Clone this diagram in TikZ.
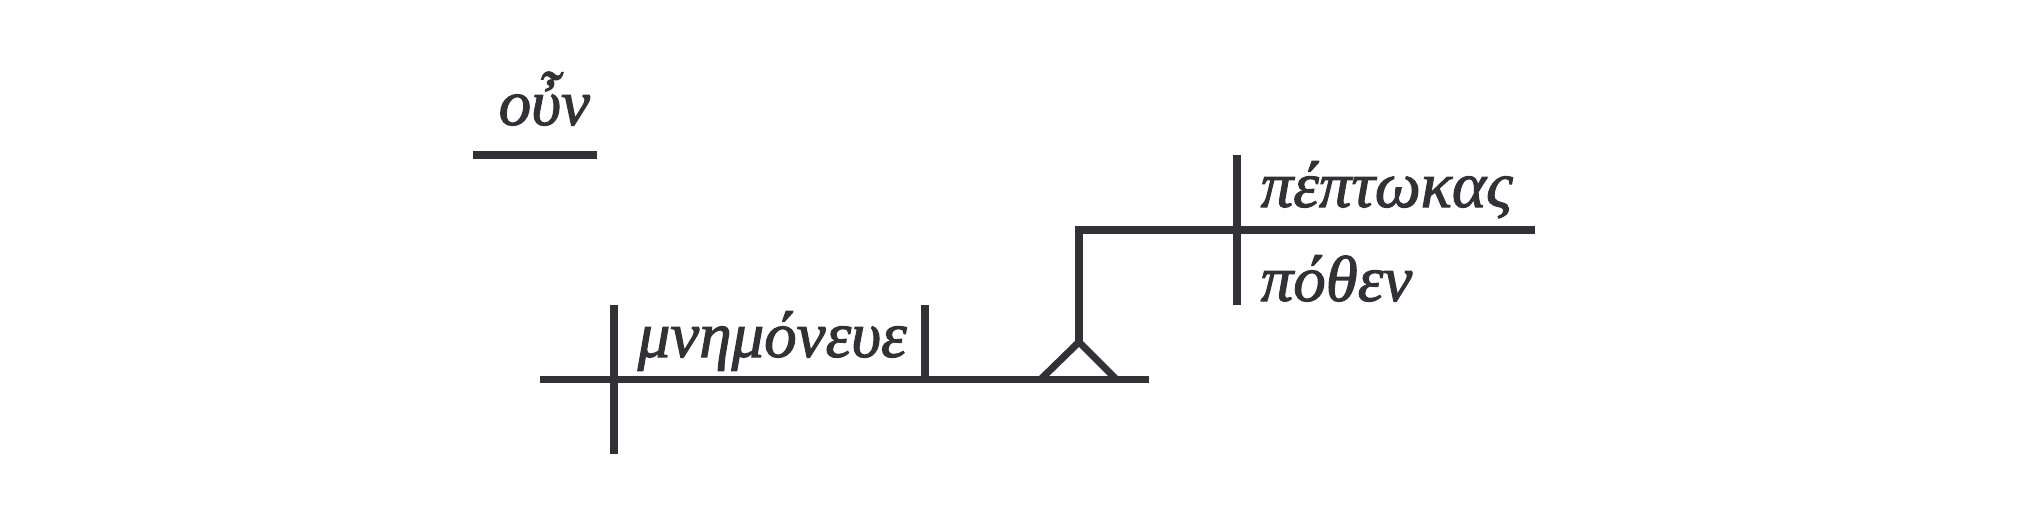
\documentclass[tikz,border=0pt]{standalone}
\usepackage{fontspec}
\setmainfont{Liberation Serif}[ItalicFeatures={FakeBold=1.6}]
\usepackage{tikz}
\definecolor{linegray}{RGB}{50,50,54}
\tikzset{
  diag/.style={line width=2pt,linegray},
  word/.style={font=\itshape\fontsize{18.5}{22}\selectfont,text=linegray,inner sep=0pt,anchor=base west}
}

\begin{document}
\begin{tikzpicture}[x=0.01cm,y=-0.01cm]
  \useasboundingbox (0,0) rectangle (2026,514);
  % conjunction
  \coordinate (conjL) at (473,155);
  \coordinate (conjR) at (597,155);
  \draw[diag] (conjL)--(conjR);
  \node[word] (oun) at (498,125) {οὖν};
  % main baseline
  \coordinate (baseL) at (540,379);
  \coordinate (baseR) at (1149,379);
  \draw[diag] (baseL)--(baseR);
  \coordinate (subjT) at (614,305);
  \coordinate (subjB) at (614,454);
  \draw[diag] (subjT)--(subjB);
  \coordinate (verbT) at (925,305);
  \coordinate (verbB) at (925,379);
  \draw[diag] (verbT)--(verbB);
  \node[word] (mnem) at (637,357) {μνημόνευε};
  % pedestal
  \coordinate (triL) at (1041,379);
  \coordinate (triR) at (1116,379);
  \coordinate (apex) at (1079,342);
  \coordinate (corner) at (1079,230);
  \coordinate (clauseR) at (1535,230);
  \draw[diag] (triL)--(apex)--(triR);
  \draw[diag] (apex)--(corner)--(clauseR);
  \coordinate (divT) at (1237,155);
  \coordinate (divB) at (1237,305);
  \draw[diag] (divT)--(divB);
  \node[word] (pept) at (1260,207) {πέπτωκας};
  \node[word] (pothen) at (1260,301) {πόθεν};
\end{tikzpicture}
\end{document}
